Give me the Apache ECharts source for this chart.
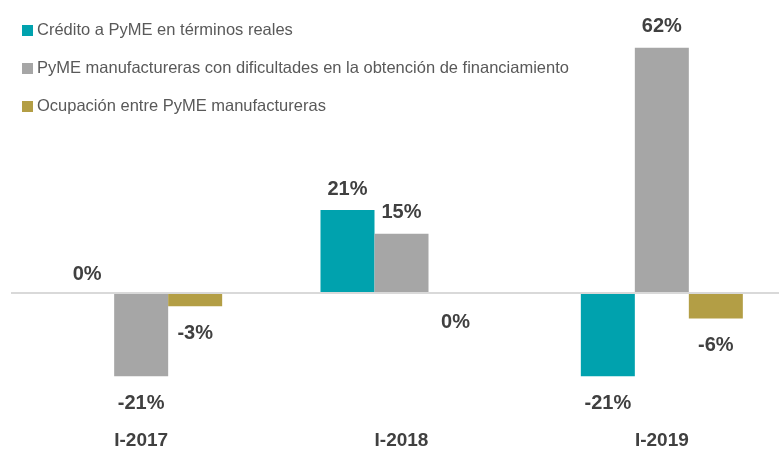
<!DOCTYPE html>
<html>
<head>
<meta charset="utf-8">
<script src="https://cdn.jsdelivr.net/npm/echarts@6/dist/echarts.min.js"></script>
<style>
  html, body { margin: 0; padding: 0; background: #fff; overflow: hidden; }
  #chart { width: 792px; height: 450px; }
</style>
</head>
<body>
<div id="chart"></div>
<script>
const periods = ["I-2017", "I-2018", "I-2019"];
const seriesNames = [
    "Crédito a PyME en términos reales",
    "PyME manufactureras con dificultades en la obtención de financiamiento",
    "Ocupación entre PyME manufactureras"
];
const credito = [0, 21, -21];
const dificultades = [-21, 15, 62];
const ocupacion = [-3.3, 0, -6.4];
const colors = ["#00A2AE", "#A6A6A6", "#B39E45"];

const labelStyle = {
    show: true,
    fontFamily: "Liberation Sans",
    fontWeight: "bold",
    fontSize: 20,
    color: "#404040",
    formatter: p => Math.round(p.value) + "%"
};

// positive values labelled on top, negative below; the two zeros as in the picture
function items(values, zeroPos) {
    return values.map(v => {
        let pos = v > 0 ? "top" : (v < 0 ? "bottom" : zeroPos);
        let dist = pos == "top" ? 11 : 17;
        if (v == 0) dist = pos == "top" ? 9 : 19;
        return { value: v, label: { position: pos, distance: dist } };
    });
}

// the chart box is a little wider than the window, as the axis runs past the right edge
const chart = echarts.init(document.getElementById("chart"));
chart.setOption({
    animation: false,
    color: colors,
    legend: {
        orient: "vertical",
        left: 22,
        top: 22,
        padding: 0,
        itemWidth: 11,
        itemHeight: 11,
        itemGap: 21,
        icon: "rect",
        textStyle: { fontFamily: "Liberation Sans", fontSize: 16.5, color: "#595959", padding: [0, 0, 0, -1] },
        data: seriesNames
    },
    grid: { left: 11, right: 0, top: 16, bottom: 37 },
    xAxis: {
        type: "category",
        data: periods,
        axisLine: { show: false, onZero: false },
        axisTick: { show: false },
        axisLabel: {
            margin: 19,
            fontFamily: "Liberation Sans",
            fontWeight: "bold",
            fontSize: 19,
            color: "#404040"
        }
    },
    yAxis: {
        type: "value",
        min: -30,
        max: 70,
        show: false,
        splitLine: { show: false }
    },
    series: [
        {
            name: seriesNames[0],
            type: "bar",
            barWidth: 54,
            barGap: "0%",
            data: items(credito, "top"),
            label: labelStyle,
            markLine: {
                silent: true,
                symbol: "none",
                label: { show: false },
                lineStyle: { color: "#D9D9D9", width: 2, type: "solid" },
                data: [{ yAxis: 0 }]
            }
        },
        {
            name: seriesNames[1],
            type: "bar",
            barWidth: 54,
            barGap: "0%",
            data: items(dificultades, "top"),
            label: labelStyle
        },
        {
            name: seriesNames[2],
            type: "bar",
            barWidth: 54,
            barGap: "0%",
            data: items(ocupacion, "bottom"),
            label: labelStyle
        }
    ]
});
</script>
</body>
</html>
